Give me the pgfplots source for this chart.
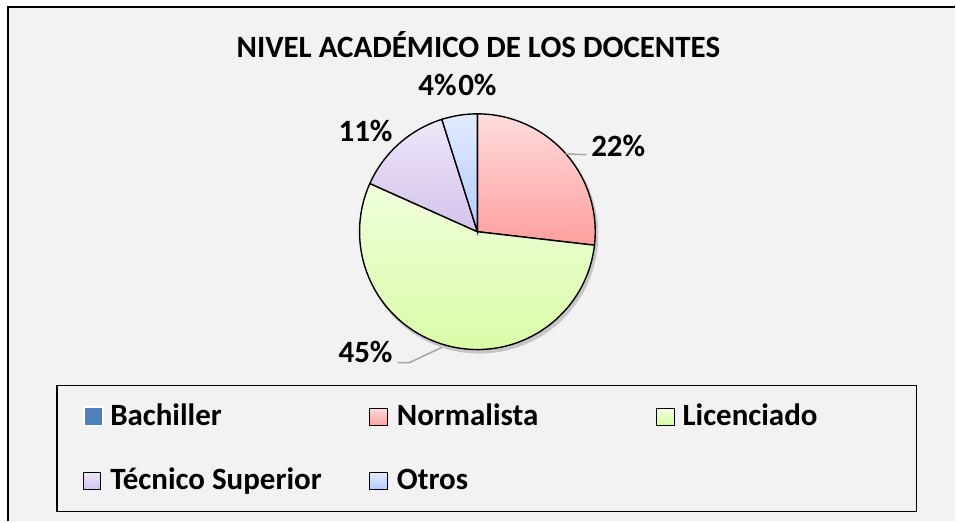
\documentclass[border=0pt]{standalone}
\usepackage{pgfplots}
\pgfplotsset{compat=1.18}
\usepackage{pgfplotstable}
\usepackage{fontspec}
\setmainfont{Carlito}

\definecolor{bgc}{HTML}{F2F2F2}
\definecolor{nTop}{HTML}{FFDCDC}\definecolor{nBot}{HTML}{FF9E9E}
\definecolor{lTop}{HTML}{F0FFDC}\definecolor{lBot}{HTML}{D8FCA4}
\definecolor{tTop}{HTML}{EEE6F8}\definecolor{tBot}{HTML}{D3C3EC}
\definecolor{oTop}{HTML}{E2ECFF}\definecolor{oBot}{HTML}{B2CAFF}
\definecolor{bach}{HTML}{4F81BD}
\definecolor{lead}{HTML}{A6A6A6}

\newcommand\lab{\fontsize{15.5}{18}\selectfont\bfseries}

\pgfplotstableread{
name value
Bachiller 0
Normalista 22
Licenciado 45
Tecnico 11
Otros 4
}\piedata

\begin{document}
\pgfplotstablegetelem{0}{value}\of\piedata\edef\vA{\pgfplotsretval}%
\pgfplotstablegetelem{1}{value}\of\piedata\edef\vB{\pgfplotsretval}%
\pgfplotstablegetelem{2}{value}\of\piedata\edef\vC{\pgfplotsretval}%
\pgfplotstablegetelem{3}{value}\of\piedata\edef\vD{\pgfplotsretval}%
\pgfplotstablegetelem{4}{value}\of\piedata\edef\vE{\pgfplotsretval}%
\pgfmathsetmacro\tot{\vA+\vB+\vC+\vD+\vE}%
\pgfmathsetmacro\aA{90}%
\pgfmathsetmacro\aB{\aA-360*\vA/\tot}%
\pgfmathsetmacro\aC{\aB-360*\vB/\tot}%
\pgfmathsetmacro\aD{\aC-360*\vC/\tot}%
\pgfmathsetmacro\aE{\aD-360*\vD/\tot}%
\pgfmathsetmacro\aF{\aE-360*\vE/\tot}%
\begin{tikzpicture}
\begin{axis}[x=0.5pt, y=0.5pt, xmin=0, xmax=956, ymin=0, ymax=522,
  hide axis, clip=false]
% background and chart frame
\fill[white] (axis cs:0,0) rectangle (axis cs:956,522);
\fill[bgc] (axis cs:8,0) rectangle (axis cs:956,515);
\draw[black, line width=1.2pt] (axis cs:8,0) -- (axis cs:8,515) -- (axis cs:956,515);
% shadow
\fill[black, opacity=0.18] (axis cs:480,287) circle[radius=59.5pt];
% pie slices (clockwise from 12 o'clock)
\path[draw=black, line width=0.7pt, top color=nTop, bottom color=nBot]
  (axis cs:478,290) -- ++(\aB:59pt) arc[start angle=\aB, end angle=\aC, radius=59pt] -- cycle;
\path[draw=black, line width=0.7pt, top color=lTop, bottom color=lBot]
  (axis cs:478,290) -- ++(\aC:59pt) arc[start angle=\aC, end angle=\aD, radius=59pt] -- cycle;
\path[draw=black, line width=0.7pt, top color=tTop, bottom color=tBot]
  (axis cs:478,290) -- ++(\aD:59pt) arc[start angle=\aD, end angle=\aE, radius=59pt] -- cycle;
\path[draw=black, line width=0.7pt, top color=oTop, bottom color=oBot]
  (axis cs:478,290) -- ++(\aE:59pt) arc[start angle=\aE, end angle=\aF, radius=59pt] -- cycle;
% title
\node[anchor=base, inner sep=0, font=\lab] at (axis cs:479,464) {NIVEL ACADÉMICO DE LOS DOCENTES};
% data labels
\draw[lead, line width=0.75pt] (axis cs:566,368) -- (axis cs:587,367);
\draw[lead, line width=0.75pt] (axis cs:398,159) -- (axis cs:410,159) -- (axis cs:442,174);
\node[anchor=base, inner sep=0, font=\lab] at (axis cs:619,365) {22\%};
\node[anchor=base, inner sep=0, font=\lab] at (axis cs:366,159) {45\%};
\node[anchor=base, inner sep=0, font=\lab] at (axis cs:366,380) {11\%};
\node[anchor=base, inner sep=0, font=\lab] at (axis cs:438,426) {4\%};
\node[anchor=base, inner sep=0, font=\lab] at (axis cs:478,426) {0\%};
% legend
\draw[black, line width=0.6pt] (axis cs:57,10) rectangle (axis cs:918,136);
\fill[white] (axis cs:83,94) rectangle (axis cs:104,115);
\fill[bach] (axis cs:85,96) rectangle (axis cs:102,113);
\path[draw=black, line width=0.6pt, top color=nTop, bottom color=nBot] (axis cs:370,96) rectangle (axis cs:388,113);
\path[draw=black, line width=0.6pt, top color=lTop, bottom color=lBot] (axis cs:657,96) rectangle (axis cs:675,113);
\path[draw=black, line width=0.6pt, top color=tTop, bottom color=tBot] (axis cs:84,32) rectangle (axis cs:101,49);
\path[draw=black, line width=0.6pt, top color=oTop, bottom color=oBot] (axis cs:370,32) rectangle (axis cs:388,49);
\node[anchor=base west, inner sep=0, font=\lab] at (axis cs:110,96) {Bachiller};
\node[anchor=base west, inner sep=0, font=\lab] at (axis cs:397,96) {Normalista};
\node[anchor=base west, inner sep=0, font=\lab] at (axis cs:683,96) {Licenciado};
\node[anchor=base west, inner sep=0, font=\lab] at (axis cs:110,32) {Técnico Superior};
\node[anchor=base west, inner sep=0, font=\lab] at (axis cs:397,32) {Otros};
\end{axis}
\end{tikzpicture}
\end{document}
